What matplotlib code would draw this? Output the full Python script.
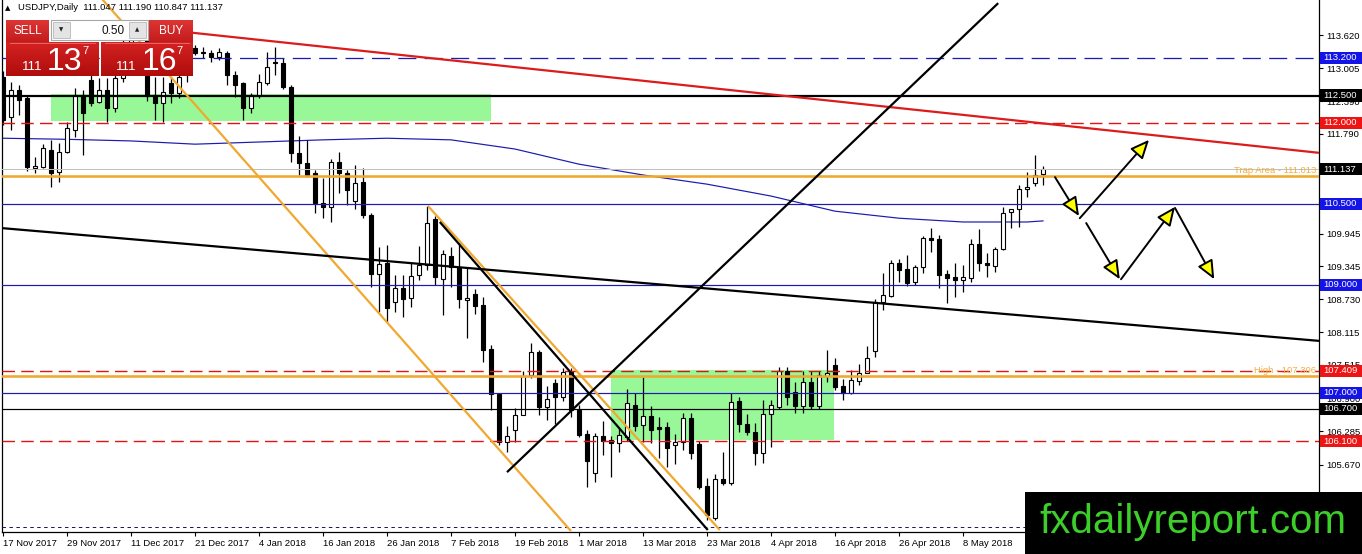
import matplotlib
matplotlib.use('Agg')
import matplotlib.pyplot as plt
from matplotlib.patches import Rectangle
from matplotlib.transforms import blended_transform_factory
import numpy as np

plt.rcParams['font.family'] = ['Liberation Sans', 'DejaVu Sans']
plt.rcParams['lines.scale_dashes'] = False

# ---------------- data ----------------
title_text = "USDJPY,Daily  111.047 111.190 110.847 111.137"

opens = [112.85, 112.10, 112.60, 112.45, 111.15, 111.18, 111.49, 111.09, 111.46, 111.86,
         112.51, 112.79, 112.38, 112.60, 112.27, 112.83, 113.48, 113.52, 113.55, 112.51,
         112.36, 112.73, 112.55, 112.88, 113.38, 113.31, 113.29, 113.21, 113.29, 112.88,
         112.73, 112.27, 112.51, 112.73, 113.12, 113.10, 112.66, 111.43, 111.25, 111.07,
         110.51, 110.44, 111.27, 111.07, 110.55, 110.90, 110.29, 109.20, 109.40, 108.68,
         108.94, 108.75, 109.18, 109.36, 110.22, 109.11, 109.53, 109.33, 108.72, 108.83,
         108.63, 107.81, 106.98, 106.09, 106.31, 106.59, 107.33, 107.76, 106.74, 107.18,
         106.92, 107.38, 106.68, 106.24, 105.52, 106.20, 106.13, 106.07, 106.18, 106.77,
         106.40, 106.57, 106.37, 106.37, 106.03, 106.09, 106.53, 106.05, 105.28, 104.68,
         105.41, 105.33, 106.85, 106.42, 106.27, 105.88, 106.60, 106.74, 107.41, 107.01,
         106.75, 107.20, 106.75, 107.31, 107.51, 107.13, 107.00, 107.22, 107.37, 107.77,
         108.68, 108.79, 109.40, 109.29, 109.05, 109.33, 109.86, 109.84, 109.20, 109.14,
         109.09, 109.12, 109.75, 109.40, 109.34, 109.66, 110.34, 110.40, 110.77, 110.88,
         111.047]
highs = [112.95, 112.75, 112.70, 112.51, 111.36, 111.60, 111.68, 111.62, 112.01, 112.64,
         112.60, 112.88, 112.83, 112.83, 112.92, 113.60, 113.65, 113.75, 113.70, 112.84,
         112.84, 112.84, 113.00, 113.45, 113.44, 113.40, 113.35, 113.38, 113.32, 112.95,
         112.75, 112.55, 112.90, 113.31, 113.40, 113.20, 112.70, 111.75, 111.68, 111.12,
         110.97, 111.33, 111.45, 111.12, 111.21, 111.15, 110.33, 109.70, 109.73, 109.18,
         109.18, 109.40, 109.72, 110.46, 110.27, 109.64, 109.70, 109.77, 109.31, 108.92,
         108.77, 107.88, 106.98, 106.39, 106.72, 107.40, 107.92, 107.79, 107.13, 107.25,
         107.46, 107.46, 106.78, 106.31, 106.25, 106.48, 106.20, 106.35, 107.07, 107.00,
         107.29, 106.75, 106.55, 106.45, 106.23, 106.62, 106.62, 106.10, 105.42, 105.50,
         105.90, 106.99, 106.93, 106.60, 106.44, 106.87, 106.87, 107.48, 107.48, 107.20,
         107.40, 107.40, 107.40, 107.79, 107.64, 107.25, 107.42, 107.53, 107.86, 108.73,
         109.22, 109.46, 109.48, 109.55, 109.36, 109.90, 110.05, 109.92, 109.27, 109.40,
         109.36, 109.85, 110.03, 109.59, 109.70, 110.44, 110.40, 110.85, 111.09, 111.40,
         111.190]
lows = [111.95, 111.86, 112.14, 111.10, 111.07, 111.15, 110.81, 110.90, 111.44, 111.73,
        111.40, 112.30, 112.36, 112.01, 112.20, 112.75, 113.30, 113.35, 112.40, 112.05,
        112.01, 112.36, 112.45, 112.75, 113.25, 113.20, 113.12, 113.15, 112.70, 112.48,
        112.05, 112.18, 112.45, 112.70, 112.88, 112.62, 111.27, 111.03, 110.99, 110.33,
        110.23, 110.16, 110.70, 110.47, 110.40, 110.23, 108.96, 108.49, 108.31, 108.49,
        108.40, 108.58, 109.09, 109.27, 108.99, 108.44, 108.96, 108.57, 108.01, 108.45,
        107.57, 106.68, 106.03, 105.90, 106.09, 106.59, 107.27, 106.59, 106.50, 106.42,
        106.85, 106.55, 106.18, 105.26, 105.35, 105.85, 105.44, 105.90, 106.10, 106.30,
        106.09, 106.07, 105.80, 105.62, 105.68, 105.94, 105.78, 105.22, 104.65, 104.65,
        105.30, 105.30, 106.27, 106.22, 105.66, 105.70, 105.99, 106.70, 106.77, 106.62,
        106.62, 106.70, 106.70, 107.20, 107.05, 106.87, 106.98, 107.14, 107.37, 107.66,
        108.53, 108.78, 109.05, 108.98, 109.00, 109.22, 109.60, 108.94, 108.66, 108.77,
        108.86, 109.05, 109.26, 109.14, 109.23, 109.64, 110.05, 110.07, 110.62, 110.82,
        110.847]
closes = [112.05, 112.60, 112.42, 111.18, 111.20, 111.53, 111.07, 111.46, 111.90, 112.51,
          112.18, 112.36, 112.60, 112.27, 112.83, 113.48, 113.52, 113.55, 112.49, 112.36,
          112.56, 112.55, 112.85, 113.35, 113.29, 113.29, 113.21, 113.30, 112.88, 112.70,
          112.27, 112.51, 112.75, 113.03, 113.10, 112.66, 111.43, 111.25, 111.03, 110.51,
          110.44, 111.27, 111.07, 110.75, 110.88, 110.29, 109.20, 109.38, 108.57, 108.94,
          108.73, 109.16, 109.36, 110.14, 109.14, 109.57, 109.33, 108.73, 108.76, 108.61,
          107.79, 106.98, 106.09, 106.20, 106.59, 107.31, 107.76, 106.74, 106.88, 106.92,
          107.38, 106.68, 106.22, 105.74, 106.20, 106.11, 106.07, 106.22, 106.81, 106.38,
          106.57, 106.31, 106.33, 105.98, 106.09, 106.53, 105.89, 105.26, 104.74, 105.41,
          105.33, 106.83, 106.42, 106.27, 105.88, 106.60, 106.77, 107.41, 106.92, 106.75,
          107.20, 106.75, 107.33, 107.37, 107.11, 107.00, 107.24, 107.37, 107.64, 108.68,
          108.81, 109.40, 109.27, 109.03, 109.33, 109.86, 109.83, 109.18, 109.12, 109.09,
          109.14, 109.75, 109.40, 109.36, 109.66, 110.33, 110.40, 110.77, 110.80, 111.03,
          111.137]

date_labels = ["17 Nov 2017", "29 Nov 2017", "11 Dec 2017", "21 Dec 2017", "4 Jan 2018",
               "16 Jan 2018", "26 Jan 2018", "7 Feb 2018", "19 Feb 2018", "1 Mar 2018",
               "13 Mar 2018", "23 Mar 2018", "4 Apr 2018", "16 Apr 2018", "26 Apr 2018",
               "8 May 2018"]
date_bars = [0, 8, 16, 24, 32, 40, 48, 56, 64, 72, 80, 88, 96, 104, 112, 120]

price_ticks = [113.620, 113.005, 112.390, 111.790, 109.945, 109.345, 108.730,
               108.115, 107.515, 106.900, 106.285, 105.670, 105.055]

# moving average (read at every 8th bar)
ma_bars = [0, 8, 16, 24, 32, 40, 48, 56, 64, 72, 80, 88, 96, 104, 112, 120, 128, 130]
ma_vals = [111.71, 111.69, 111.66, 111.60, 111.64, 111.68, 111.71, 111.68, 111.51,
           111.23, 111.03, 110.86, 110.64, 110.36, 110.23, 110.16, 110.16, 110.18]

# horizontal levels: (price, colour, style, width in px)
hlines = [
    (113.200, '#1c1cb0', 'dash_long', 1.3),
    (112.500, '#000000', 'solid', 2.2),
    (112.000, '#e01414', 'dash', 1.4),
    (111.137, '#c0c0c0', 'solid', 1.0),
    (111.013, '#f0a830', 'solid', 2.6),
    (110.500, '#1c1cb0', 'solid', 1.2),
    (109.000, '#1c1cb0', 'solid', 1.2),
    (107.409, '#e01414', 'dash', 1.4),
    (107.306, '#f0a830', 'solid', 2.6),
    (107.000, '#1c1cb0', 'solid', 1.2),
    (106.700, '#000000', 'solid', 1.2),
    (106.100, '#e01414', 'dash', 1.4),
    (104.520, '#1c1c5c', 'dot', 1.0),
]
level_texts = [(111.013, "Trap Area - 111.013"), (107.306, "High - 107.306")]

# price boxes on the right axis: (price, background)
price_boxes = [(113.200, '#1414e6'), (112.500, '#000000'), (112.000, '#ee1414'),
               (111.137, '#000000'), (110.500, '#1414e6'), (109.000, '#1414e6'),
               (107.409, '#ee1414'), (107.000, '#1414e6'), (106.700, '#000000'),
               (106.100, '#ee1414')]

# trend lines: ((bar, price), (bar, price), colour)
trendlines = [
    ((20.0, 113.72), (164.5, 111.44), '#dc1c1c'),
    ((12.0, 114.35), (71.0, 104.44), '#f0a830'),
    ((53.1, 110.46), (89.6, 104.46), '#f0a830'),
    ((54.6, 110.16), (88.1, 104.46), '#000000'),
    ((63.0, 105.53), (124.4, 114.21), '#000000'),
    ((-0.4, 110.05), (164.5, 107.96), '#000000'),
]

# green zones: (bar_from, bar_to, price_low, price_high)
zones = [(6.0, 61.0, 112.03, 112.53), (76.0, 103.9, 106.13, 107.42)]

# projection arrows: start / tip (bar, price)
arrow_from = [(131.5, 110.99), (134.6, 110.23), (135.4, 110.14), (139.75, 109.10), (146.5, 110.42)]
arrow_to = [(134.5, 110.27), (143.25, 111.68), (139.6, 109.10), (146.5, 110.44), (151.4, 109.10)]

# ---------------- figure ----------------
W, H = 1362, 554
fig = plt.figure(figsize=(W / 100, H / 100), dpi=100)
fig.patch.set_facecolor('white')
L_px, R_px, T_px, B_px = 2, 1319, 0, 532
ax = fig.add_axes([L_px / W, 1 - B_px / H, (R_px - L_px) / W, (B_px - T_px) / H])
ax.set_xlim(-0.125, 164.5)
ax.set_ylim(104.423, 114.268)
ax.set_facecolor('white')

FS = 6.8
PX = 0.72  # points per pixel

# zones
for b0, b1, p0, p1 in zones:
    ax.add_patch(Rectangle((b0, p0), b1 - b0, p1 - p0, facecolor='#98f898',
                           edgecolor='none', zorder=1))

# moving average
ax.plot(ma_bars, ma_vals, color='#1c1cb0', lw=1.2 * PX, zorder=2)

# candles
n = len(opens)
bw = 0.6
for i in range(n):
    o, h, l, c = opens[i], highs[i], lows[i], closes[i]
    ax.vlines(i, l, h, color='black', lw=0.9, zorder=3)
    lo, hi = min(o, c), max(o, c)
    hgt = max(hi - lo, 0.012)
    fc = 'white' if c >= o else 'black'
    ax.add_patch(Rectangle((i - bw / 2, lo), bw, hgt, facecolor=fc,
                           edgecolor='black', lw=0.8, zorder=4))

# horizontal levels
styles = {'solid': '-', 'dash': (0, (9, 4.5)), 'dash_long': (0, (13, 6)), 'dot': (0, (2.5, 2.5))}
for p, col, st, w in hlines:
    ax.axhline(p, color=col, lw=w * PX, linestyle=styles[st], zorder=5)

# trendlines
for (b0, p0), (b1, p1), col in trendlines:
    ax.plot([b0, b1], [p0, p1], color=col, lw=1.6, zorder=6, solid_capstyle='butt')

# level labels
bt = blended_transform_factory(ax.transAxes, ax.transData)
for p, txt in level_texts:
    ax.text(0.998, p + 0.015, txt, transform=bt, ha='right', va='bottom',
            fontsize=FS, color='#f0b040', zorder=7)

# arrows
for (b0, p0), (b1, p1) in zip(arrow_from, arrow_to):
    ax.annotate('', xy=(b1, p1), xytext=(b0, p0),
                arrowprops=dict(arrowstyle='-|>,head_length=0.95,head_width=0.42',
                                mutation_scale=12, fc='#ffff00', ec='black', lw=1.4,
                                shrinkA=0, shrinkB=0), zorder=8)

# axes styling
ax.spines['top'].set_visible(False)
for s in ['left', 'right', 'bottom']:
    ax.spines[s].set_linewidth(0.9)
    ax.spines[s].set_color('black')

ax.yaxis.tick_right()
ax.set_yticks(price_ticks)
ax.set_yticklabels([f"{v:.3f}" for v in price_ticks], fontsize=FS)
ax.tick_params(axis='y', length=3, width=0.8, pad=2, direction='out')
ax.set_xticks(date_bars)
ax.set_xticklabels(date_labels, fontsize=FS, ha='left')
ax.tick_params(axis='x', length=3, width=0.8, pad=2, direction='out')

# price boxes
box_h = 0.112
box_w = (W - R_px) / (R_px - L_px)
for p, col in price_boxes:
    ax.add_patch(Rectangle((1.0006, p - box_h), box_w, 2 * box_h, transform=bt,
                           facecolor=col, edgecolor='none', clip_on=False, zorder=20))
    ax.text(1.0035, p, f"{p:.3f}", transform=bt, ha='left', va='center',
            fontsize=FS, color='white', clip_on=False, zorder=21)

# ---------------- overlay (panel, title, watermark) ----------------
ov = fig.add_axes([0, 0, 1, 1], zorder=10)
ov.set_xlim(0, W)
ov.set_ylim(H, 0)
ov.axis('off')


def grad_box(x0, y0, w, h, c_top, c_bot):
    g = np.linspace(0, 1, 50).reshape(-1, 1)
    ct = np.array(matplotlib.colors.to_rgb(c_top))
    cb = np.array(matplotlib.colors.to_rgb(c_bot))
    img = ct[None, None, :] * (1 - g[:, :, None]) + cb[None, None, :] * g[:, :, None]
    ov.imshow(img, extent=[x0, x0 + w, y0 + h, y0], aspect='auto', zorder=1,
              interpolation='bilinear')


# title
ov.text(5, 8, "\u25b2", fontsize=5, va='center', ha='left', color='black',
        family=['DejaVu Sans'])
ov.text(18, 8, title_text, fontsize=FS, va='center', ha='left', color='black')

# one-click panel
grad_box(6, 20, 43, 22, '#dd3434', '#c41c1c')
grad_box(149, 20, 44, 22, '#dd3434', '#c41c1c')
grad_box(6, 42, 93, 34, '#d42222', '#b00c0c')
grad_box(101, 42, 92, 34, '#d42222', '#b00c0c')
ov.plot([10, 95], [42.5, 42.5], color='#e87070', lw=0.6, zorder=2)
ov.plot([105, 189], [42.5, 42.5], color='#e87070', lw=0.6, zorder=2)
ov.add_patch(Rectangle((51, 20), 97, 20, facecolor='white', edgecolor='#a8a8a8',
                       lw=0.8, zorder=2))
ov.add_patch(Rectangle((53, 22), 17, 16, facecolor='#e4e4e4', edgecolor='#b8b8b8',
                       lw=0.6, zorder=3))
ov.add_patch(Rectangle((129, 22), 17, 16, facecolor='#e4e4e4', edgecolor='#b8b8b8',
                       lw=0.6, zorder=3))
ov.text(61.5, 30, "\u25bc", fontsize=4, ha='center', va='center', color='#222222',
        family=['DejaVu Sans'], zorder=4)
ov.text(137.5, 30, "\u25b2", fontsize=4, ha='center', va='center', color='#222222',
        family=['DejaVu Sans'], zorder=4)
ov.text(125, 30.5, "0.50", fontsize=8.5, ha='right', va='center', color='#111111', zorder=4)
ov.text(27.5, 31, "SELL", fontsize=8.5, ha='center', va='center', color='white', zorder=4)
ov.text(171, 31, "BUY", fontsize=8.5, ha='center', va='center', color='white', zorder=4)
for x_small, x_big, x_sup, big in [(22, 47, 82, "13"), (116, 142, 176, "16")]:
    ov.text(x_small, 70, "111", fontsize=9.5, ha='left', va='baseline', color='white', zorder=4)
    ov.text(x_big, 70, big, fontsize=23, ha='left', va='baseline', color='white', zorder=4)
    ov.text(x_sup, 54, "7", fontsize=8, ha='left', va='baseline', color='white', zorder=4)

# watermark
ov.add_patch(Rectangle((1025, 492), W - 1025, H - 492, facecolor='black',
                       edgecolor='none', zorder=5))
ov.text(1193, 533, "fxdailyreport.com", fontsize=29, ha='center', va='baseline',
        color='#3ccf2a', zorder=6)

ov.set_xlim(0, W)
ov.set_ylim(H, 0)

fig.savefig('out.png', dpi=100, facecolor='white')
